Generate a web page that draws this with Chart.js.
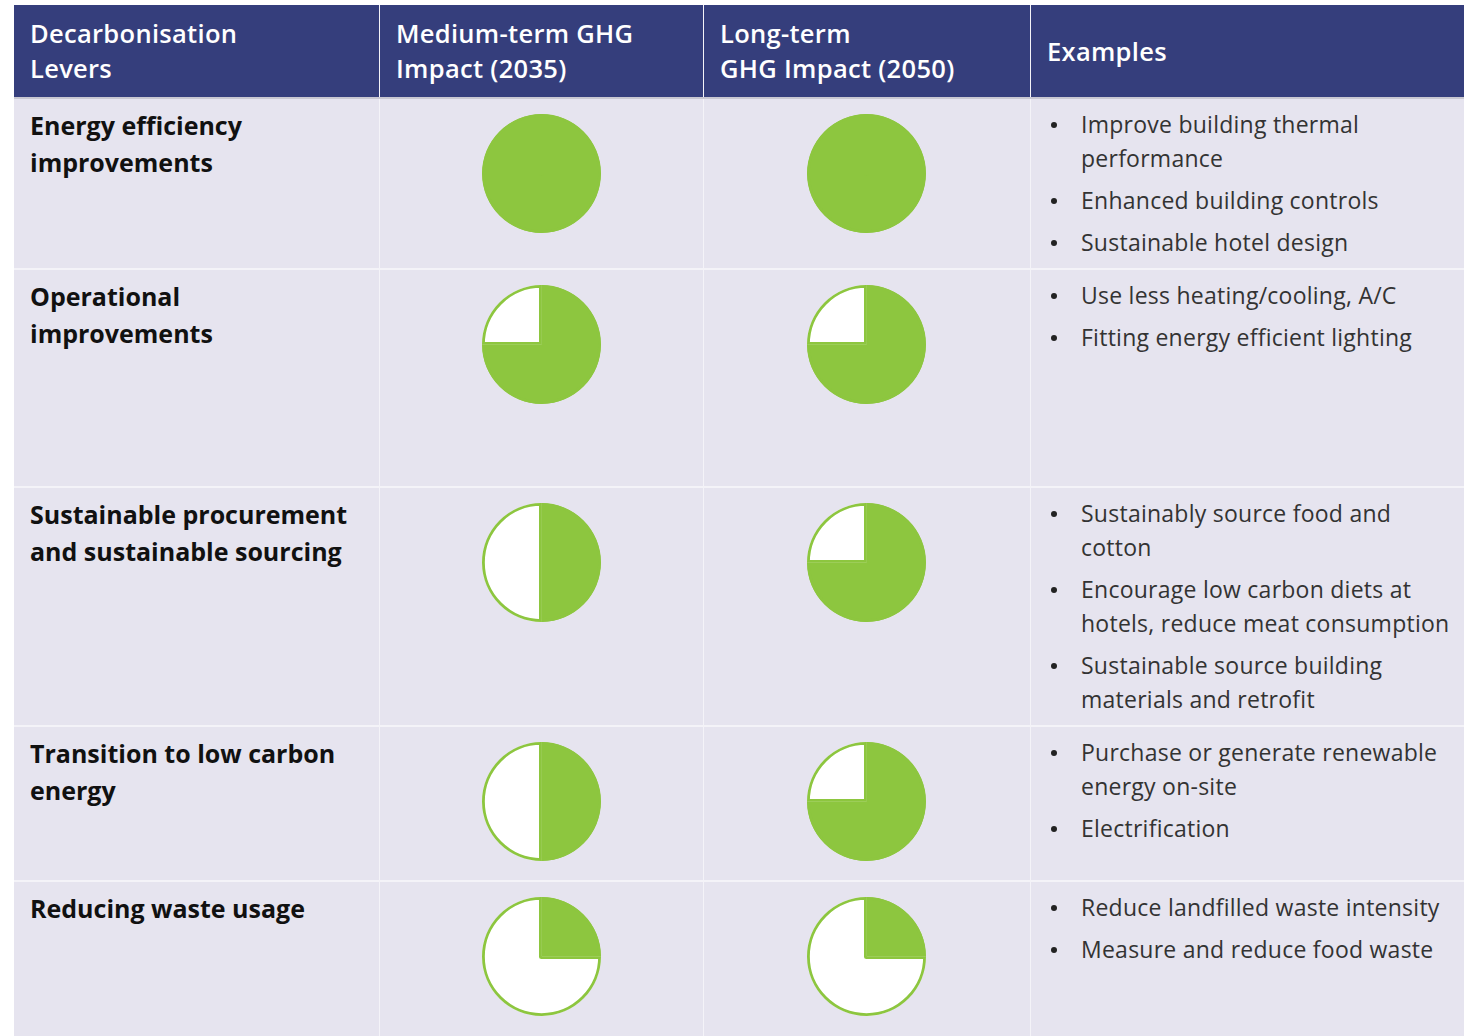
<!DOCTYPE html>
<html lang="en">
<head>
<meta charset="UTF-8">
<title>Decarbonisation Levers</title>
<script src="https://cdn.jsdelivr.net/npm/chart.js"></script>
<style>
  * { box-sizing: border-box; margin: 0; padding: 0; }
  body {
    width: 1464px; height: 1036px; overflow: hidden;
    background: #fff; position: relative;
    font-family: "Open Sans", "Noto Sans", sans-serif;
  }
  #table { position: absolute; left: 14px; top: 5px; right: 0; bottom: 0; background: #f4f3f8; }
  .cell { position: absolute; background: #e6e4ef; }
  .head {
    background: #353e7c; color: #fff; font-weight: 600;
    font-size: 25.5px; line-height: 35px; padding-left: 16px;
    display: flex; align-items: center; letter-spacing: 0.3px;
  }
  .lever { font-weight: 700; font-size: 25px; line-height: 37px; color: #111; padding: 8px 0 0 16px; }
  .ball { position: absolute; }
  ul { list-style: none; padding: 8px 0 0 50px; }
  li { position: relative; font-size: 23px; line-height: 34px; color: #333; margin-bottom: 8px; letter-spacing: 0.25px; }
  li::before { content: ""; position: absolute; left: -30px; top: 15px; width: 6px; height: 6px; border-radius: 50%; background: #222; }
</style>
</head>
<body>
<div id="table"></div>
<script>
  // data
  const headers = ['Decarbonisation<br>Levers', 'Medium-term GHG<br>Impact (2035)', 'Long-term<br>GHG Impact (2050)', 'Examples'];
  const levers = [
    'Energy efficiency<br>improvements',
    'Operational<br>improvements',
    'Sustainable procurement<br>and sustainable sourcing',
    'Transition to low carbon<br>energy',
    'Reducing waste usage'
  ];
  // impact in quarters filled (out of 4)
  const mediumTerm = [4, 3, 2, 2, 1];
  const longTerm = [4, 3, 3, 3, 1];
  const examples = [
    ['Improve building thermal<br>performance', 'Enhanced building controls', 'Sustainable hotel design'],
    ['Use less heating/cooling, A/C', 'Fitting energy efficient lighting'],
    ['Sustainably source food and<br>cotton', 'Encourage low carbon diets at<br>hotels, reduce meat consumption', 'Sustainable source building<br>materials and retrofit'],
    ['Purchase or generate renewable<br>energy on-site', 'Electrification'],
    ['Reduce landfilled waste intensity', 'Measure and reduce food waste']
  ];

  // layout (relative to table origin at 14,5)
  const colX = [0, 365, 689, 1016, 1450];
  const rowY = [0, 92, 263, 481, 720, 875, 1031];
  const GREEN = '#8dc63f';
  const BALL = 119;

  const table = document.getElementById('table');

  function cell(cls, c, r, html) {
    const d = document.createElement('div');
    d.className = 'cell ' + cls;
    d.style.left = (colX[c] + (c ? 1 : 0)) + 'px';
    d.style.width = (colX[c + 1] - colX[c] - (c ? 1 : 0)) + 'px';
    d.style.top = (rowY[r] + (r ? 2 : 0)) + 'px';
    d.style.height = (rowY[r + 1] - rowY[r] - (r ? 2 : 0)) + 'px';
    if (html) d.innerHTML = html;
    table.appendChild(d);
    return d;
  }

  headers.forEach((h, c) => cell('head', c, 0, '<div>' + h + '</div>'));

  function harvey(parent, filled) {
    const box = document.createElement('div');
    box.className = 'ball';
    box.style.width = BALL + 'px';
    box.style.height = BALL + 'px';
    box.style.left = Math.round((parent.offsetWidth - BALL) / 2 - 0.5) + 'px';
    box.style.top = '15px';
    const cv = document.createElement('canvas');
    box.appendChild(cv);
    parent.appendChild(box);
    new Chart(cv, {
      type: 'pie',
      data: {
        labels: ['Impact', 'Remaining'],
        datasets: [{
          data: [filled, 4 - filled],
          backgroundColor: [GREEN, '#ffffff'],
          borderColor: GREEN,
          borderWidth: 2.5,
          borderAlign: 'inner'
        }]
      },
      options: {
        responsive: true,
        maintainAspectRatio: false,
        animation: false,
        events: [],
        layout: { padding: 0 },
        plugins: { legend: { display: false }, tooltip: { enabled: false } }
      }
    });
  }

  levers.forEach((lv, i) => {
    const r = i + 1;
    cell('lever', 0, r, lv);
    harvey(cell('', 1, r), mediumTerm[i]);
    harvey(cell('', 2, r), longTerm[i]);
    cell('', 3, r, '<ul>' + examples[i].map(e => '<li>' + e + '</li>').join('') + '</ul>');
  });

  // header bottom rule
  const rule = document.createElement('div');
  rule.style.cssText = 'position:absolute;left:0;right:0;top:92px;height:2px;background:#c9c8d2;';
  table.appendChild(rule);
</script>
</body>
</html>
